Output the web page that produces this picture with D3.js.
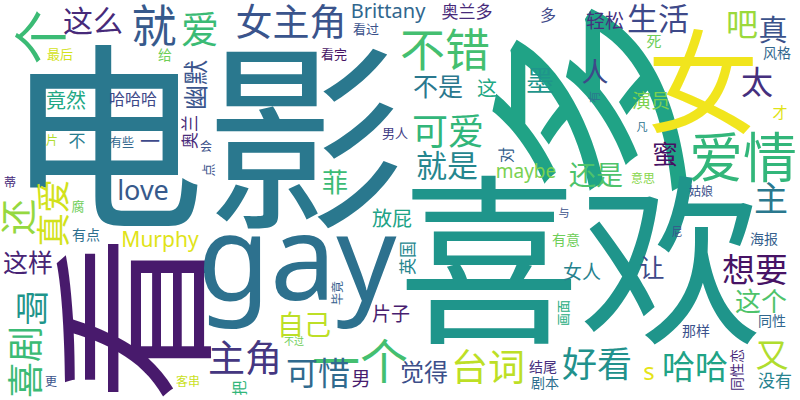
<!doctype html>
<html lang="zh">
<head>
  <meta charset="utf-8" />
  <title>词云</title>
  <style>
    html, body {
      margin: 0;
      padding: 0;
      background: #fff;
    }
    svg {
      display: block;
    }
    text {
      font-family: "Noto Sans", "Noto Sans CJK SC", sans-serif;
    }
  </style>
</head>
<body>

<script src="https://cdn.jsdelivr.net/npm/d3@7/dist/d3.min.js"></script>

<script>

var words = [
  '多', '电影', '喜欢', '看', 'gay', '女', '个', '爱情', '一个', '就',
  '不错', '爱', '女主角', '主角', '台词', '可爱', '喜剧', '还', '好看', '真爱',
  '啊', '主', '想要', '哈哈', '又', '吧', '太', '可惜', '就是', '生活',
  '这么', '真', '墨', 'love', '自己', '人', '还是', '蜜', '菲', '这个',
  '幽默', '不是', '这样', '让', 's', '觉得', 'Murphy', 'Brittany', '竟然', '放屁',
  '这', '一', 'maybe', '轻松', '演员', '片子', '男', '女人', '奥兰多', '奥兰',
  '英国', '不', '没有', '哈哈哈', '多', '对', '死', '把', '才', '给',
  '有点', '风格', '海报', '同性', '那样', '结尾', '剧本', '有意', '同性恋', '最后',
  '看过', '看完', '腐', '点', '画面', '男人', '有些', '片', '会', '蒂',
  '更', '客串', '意思', '姑娘', '毕竟', '有', '凡', '尼', '与', '不过'
];
var freq = [
  210, 200, 182, 168, 118, 112, 55, 54, 48, 45,
  45, 38, 37, 37, 37, 36, 36, 36, 35, 34,
  34, 34, 33, 33, 33, 32, 32, 32, 31, 31,
  30, 29, 28, 27, 27, 27, 27, 26, 26, 26,
  25, 25, 25, 25, 24, 24, 21, 20, 20, 20,
  20, 20, 19, 19, 19, 19, 19, 19, 17, 17,
  17, 17, 17, 16, 16, 16, 15, 15, 15, 14,
  14, 14, 14, 14, 14, 14, 14, 14, 14, 13,
  13, 13, 13, 13, 13, 13, 12, 12, 12, 12,
  12, 12, 12, 12, 12, 12, 11, 11, 11, 10
];

// Where the cloud layout put each word (centre, in 800x400 units)
var posX = [
  590, 205, 580, 133, 297, 703, 40, 743, 360, 154,
  445, 200, 291, 245, 488, 448, 25, 18, 597, 53,
  32, 771, 755, 695, 772, 742, 757, 318, 447, 658,
  93, 773, 540, 143, 304, 595, 596, 665, 335, 761,
  195, 438, 28, 652, 649, 424, 160, 388, 66, 392,
  487, 150, 526, 605, 651, 391, 361, 582, 467, 190,
  408, 77, 775, 133, 548, 506, 654, 239, 780, 165,
  86, 777, 764, 772, 696, 543, 545, 566, 737, 60,
  366, 334, 78, 208, 563, 395, 122, 52, 206, 10,
  51, 188, 643, 701, 337, 594, 642, 677, 564, 294
];
var posY = [
  102, 137, 260, 318, 255, 82, 37, 157, 361, 26,
  50, 29, 22, 358, 367, 131, 362, 217, 364, 213,
  308, 198, 269, 366, 354, 24, 82, 373, 165, 18,
  21, 30, 80, 190, 325, 72, 175, 154, 182, 301,
  85, 86, 262, 267, 371, 372, 239, 10, 100, 218,
  88, 141, 171, 21, 101, 314, 379, 272, 12, 132,
  258, 141, 381, 99, 15, 155, 41, 388, 112, 55,
  235, 53, 239, 321, 331, 367, 383, 240, 370, 54,
  29, 54, 206, 170, 313, 133, 142, 140, 146, 182,
  381, 381, 178, 191, 293, 97, 127, 232, 213, 341
];
// 1 = turned a quarter turn, reading upwards
var turned = [
  1, 0, 0, 1, 0, 0, 1, 0, 0, 0,
  0, 0, 0, 0, 0, 0, 1, 1, 0, 1,
  0, 0, 0, 0, 0, 0, 0, 0, 0, 0,
  0, 0, 0, 0, 0, 0, 0, 0, 0, 0,
  1, 0, 0, 0, 0, 0, 0, 0, 0, 0,
  0, 0, 0, 0, 0, 0, 0, 0, 0, 1,
  1, 0, 0, 0, 0, 1, 0, 1, 0, 0,
  0, 0, 0, 0, 0, 0, 0, 0, 1, 0,
  0, 0, 0, 1, 1, 0, 0, 0, 0, 0,
  0, 0, 0, 0, 1, 1, 0, 0, 0, 0
];
// colour along viridis
var tone = [
  0.58, 0.40, 0.52, 0.07, 0.37, 0.98, 0.68, 0.66, 0.70, 0.28,
  0.70, 0.68, 0.26, 0.16, 0.90, 0.66, 0.68, 0.84, 0.50, 0.93,
  0.52, 0.40, 0.05, 0.58, 0.88, 0.85, 0.14, 0.34, 0.46, 0.22,
  0.12, 0.25, 0.52, 0.28, 0.90, 0.22, 0.72, 0.04, 0.68, 0.72,
  0.26, 0.40, 0.10, 0.22, 0.96, 0.24, 0.95, 0.33, 0.60, 0.58,
  0.60, 0.22, 0.80, 0.14, 0.80, 0.08, 0.08, 0.44, 0.12, 0.12,
  0.46, 0.42, 0.44, 0.22, 0.22, 0.30, 0.78, 0.66, 0.95, 0.78,
  0.36, 0.33, 0.30, 0.33, 0.25, 0.14, 0.36, 0.78, 0.12, 0.93,
  0.25, 0.05, 0.78, 0.25, 0.62, 0.18, 0.33, 0.88, 0.25, 0.12,
  0.25, 0.92, 0.82, 0.25, 0.30, 0.40, 0.38, 0.25, 0.25, 0.78
];

var width = 800;
var height = 400;

var svg = d3.select('body').append('svg')
  .attr('width', width)
  .attr('height', height);

svg.append('rect')
  .attr('width', width)
  .attr('height', height)
  .attr('fill', '#fff');

// Scales
var x = d3.scaleLinear().domain([0, 800]).range([0, width]);
var y = d3.scaleLinear().domain([0, 400]).range([0, height]);
var fontSize = d3.scaleLinear().domain([0, 210]).range([0, 210]);
var colour = d3.scaleSequential(d3.interpolateViridis).domain([0, 1]);

var cloud = words.map(function (w, i) {
  return { text: w, n: freq[i], x: posX[i], y: posY[i], turned: turned[i], t: tone[i] };
});

svg.append('g').selectAll('text')
  .data(cloud)
  .enter()
  .append('text')
  .attr('transform', function (d) {
    return 'translate(' + x(d.x) + ',' + y(d.y) + ')' + (d.turned ? ' rotate(-90)' : '');
  })
  .attr('text-anchor', 'middle')
  .attr('dy', '0.38em')
  .attr('font-size', function (d) { return fontSize(d.n); })
  .attr('fill', function (d) { return colour(d.t); })
  .text(function (d) { return d.text; });

</script>

</body>
</html>
